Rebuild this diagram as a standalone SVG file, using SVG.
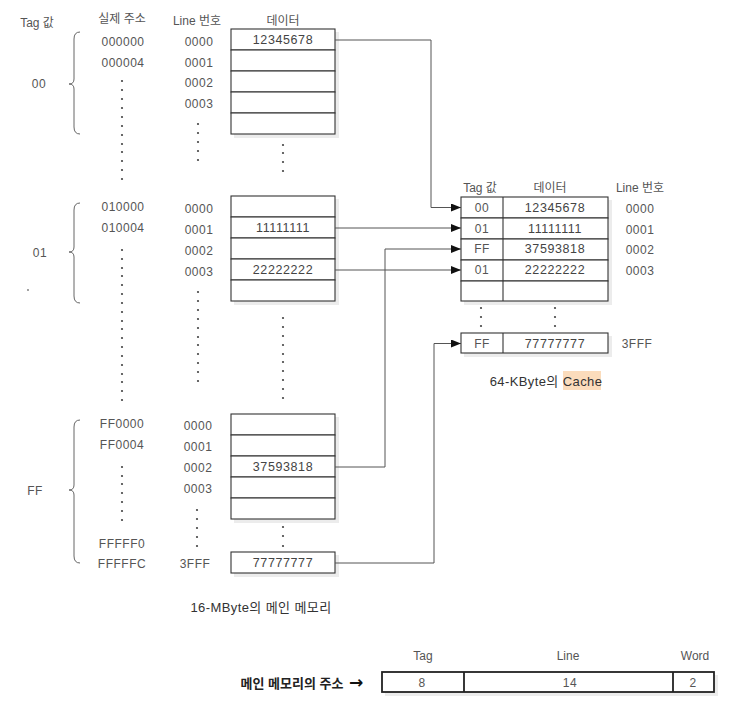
<svg xmlns="http://www.w3.org/2000/svg" width="752" height="712" viewBox="0 0 752 712">
<style>
text{font-family:"Liberation Sans","Noto Sans CJK KR",sans-serif;font-size:12px;fill:#555;text-anchor:middle;dominant-baseline:central}
.d{font-size:12.5px;fill:#444;letter-spacing:0.6px}
.n{letter-spacing:0.5px}
.cell{fill:#fff;stroke:#333;stroke-width:1.1}
.sh{fill:#ececec}
.br{fill:none;stroke:#666;stroke-width:1}
.con{fill:none;stroke:#555;stroke-width:1}
.dot{fill:#444}
.lbl{font-size:13px;fill:#333;letter-spacing:0.4px}
.addr{fill:#fff;stroke:#222;stroke-width:1.8}
</style>
<defs>
<marker id="ah" markerWidth="10" markerHeight="8" refX="10" refY="4" orient="auto" markerUnits="userSpaceOnUse">
<path d="M0,0 L10,4 L0,8 Z" fill="#111"/>
</marker>
<circle id="p" r="1.1" class="dot"/>
</defs>
<rect width="752" height="712" fill="#fff"/>

<g id="headers">
<text x="37" y="23">Tag 값</text>
<text x="122" y="19">실제 주소</text>
<text x="197" y="21">Line 번호</text>
<text x="283" y="21">데이터</text>
</g>

<g id="tag-00">
<text x="39" y="84" class="n">00</text>
<path class="br" d="M80,32 Q74,32 74,39 L74,79 Q74,84 69,84 Q74,84 74,89 L74,127 Q74,134 80,134"/>
<text x="123" y="42" class="n">000000</text>
<text x="123" y="63" class="n">000004</text>
<text x="199" y="42" class="n">0000</text>
<text x="199" y="63" class="n">0001</text>
<text x="199" y="83" class="n">0002</text>
<text x="199" y="104" class="n">0003</text>
</g>

<g id="main-block-1">
<rect class="sh" x="234" y="32" width="105" height="106"/>
<rect class="cell" x="231" y="29" width="104" height="21"/>
<rect class="cell" x="231" y="50" width="104" height="21"/>
<rect class="cell" x="231" y="71" width="104" height="21"/>
<rect class="cell" x="231" y="92" width="104" height="21"/>
<rect class="cell" x="231" y="113" width="104" height="21"/>
<text x="283" y="40" class="d">12345678</text>
</g>

<g id="tag-01">
<text x="40" y="253" class="n">01</text>
<path class="br" d="M80,203 Q74,203 74,210 L74,247 Q74,252 69,252 Q74,252 74,257 L74,296 Q74,303 80,303"/>
<text x="123" y="207" class="n">010000</text>
<text x="123" y="228" class="n">010004</text>
<text x="199" y="209" class="n">0000</text>
<text x="199" y="230" class="n">0001</text>
<text x="199" y="251" class="n">0002</text>
<text x="199" y="272" class="n">0003</text>
</g>

<g id="main-block-2">
<rect class="sh" x="234" y="199" width="105" height="106"/>
<rect class="cell" x="231" y="196" width="104" height="21"/>
<rect class="cell" x="231" y="217" width="104" height="21"/>
<rect class="cell" x="231" y="238" width="104" height="21"/>
<rect class="cell" x="231" y="259" width="104" height="21"/>
<rect class="cell" x="231" y="280" width="104" height="21"/>
<text x="283" y="228" class="d">11111111</text>
<text x="283" y="270" class="d">22222222</text>
</g>

<g id="tag-ff">
<text x="35" y="491" class="n">FF</text>
<path class="br" d="M80,420 Q74,420 74,427 L74,485 Q74,490 69,490 Q74,490 74,495 L74,556 Q74,563 80,563"/>
<text x="122" y="424" class="n">FF0000</text>
<text x="122" y="445" class="n">FF0004</text>
<text x="122" y="544" class="n">FFFFF0</text>
<text x="122" y="564" class="n">FFFFFC</text>
<text x="198" y="426" class="n">0000</text>
<text x="198" y="447" class="n">0001</text>
<text x="198" y="468" class="n">0002</text>
<text x="198" y="489" class="n">0003</text>
<text x="195" y="564" class="n">3FFF</text>
</g>

<g id="main-block-3">
<rect class="sh" x="234" y="417" width="105" height="106"/>
<rect class="cell" x="231" y="414" width="104" height="21"/>
<rect class="cell" x="231" y="435" width="104" height="21"/>
<rect class="cell" x="231" y="456" width="104" height="21"/>
<rect class="cell" x="231" y="477" width="104" height="21"/>
<rect class="cell" x="231" y="498" width="104" height="21"/>
<text x="283" y="467" class="d">37593818</text>
</g>

<g id="main-block-last">
<rect class="sh" x="234" y="555" width="105" height="22"/>
<rect class="cell" x="231" y="552" width="104" height="21"/>
<text x="283" y="563" class="d">77777777</text>
</g>

<g id="dots">
<use href="#p" x="122" y="81"/><use href="#p" x="122" y="90"/><use href="#p" x="122" y="99"/><use href="#p" x="122" y="108"/><use href="#p" x="122" y="117"/><use href="#p" x="122" y="126"/><use href="#p" x="122" y="135"/><use href="#p" x="122" y="144"/><use href="#p" x="122" y="152"/><use href="#p" x="122" y="161"/><use href="#p" x="122" y="170"/><use href="#p" x="122" y="179"/>
<use href="#p" x="198" y="124"/><use href="#p" x="198" y="133"/><use href="#p" x="198" y="142"/><use href="#p" x="198" y="151"/><use href="#p" x="198" y="160"/>
<use href="#p" x="283" y="145"/><use href="#p" x="283" y="153"/><use href="#p" x="283" y="162"/><use href="#p" x="283" y="171"/>

<use href="#p" x="122" y="250"/><use href="#p" x="122" y="259"/><use href="#p" x="122" y="268"/><use href="#p" x="122" y="276"/><use href="#p" x="122" y="285"/><use href="#p" x="122" y="294"/><use href="#p" x="122" y="303"/><use href="#p" x="122" y="312"/><use href="#p" x="122" y="321"/><use href="#p" x="122" y="329"/><use href="#p" x="122" y="338"/><use href="#p" x="122" y="347"/><use href="#p" x="122" y="356"/><use href="#p" x="122" y="365"/><use href="#p" x="122" y="374"/><use href="#p" x="122" y="382"/><use href="#p" x="122" y="391"/><use href="#p" x="122" y="400"/>
<use href="#p" x="198" y="292"/><use href="#p" x="198" y="301"/><use href="#p" x="198" y="310"/><use href="#p" x="198" y="319"/><use href="#p" x="198" y="328"/><use href="#p" x="198" y="337"/><use href="#p" x="198" y="345"/><use href="#p" x="198" y="354"/><use href="#p" x="198" y="363"/><use href="#p" x="198" y="372"/><use href="#p" x="198" y="381"/>
<use href="#p" x="283" y="318"/><use href="#p" x="283" y="327"/><use href="#p" x="283" y="336"/><use href="#p" x="283" y="345"/><use href="#p" x="283" y="354"/><use href="#p" x="283" y="362"/><use href="#p" x="283" y="371"/><use href="#p" x="283" y="380"/><use href="#p" x="283" y="389"/><use href="#p" x="283" y="398"/>

<use href="#p" x="122" y="467"/><use href="#p" x="122" y="476"/><use href="#p" x="122" y="484"/><use href="#p" x="122" y="493"/><use href="#p" x="122" y="502"/><use href="#p" x="122" y="511"/><use href="#p" x="122" y="520"/>
<use href="#p" x="197" y="510"/><use href="#p" x="197" y="519"/><use href="#p" x="197" y="528"/><use href="#p" x="197" y="537"/><use href="#p" x="197" y="546"/>
<use href="#p" x="283" y="527"/><use href="#p" x="283" y="536"/><use href="#p" x="283" y="546"/>

<use href="#p" x="481" y="308"/><use href="#p" x="481" y="317"/><use href="#p" x="481" y="326"/>
<use href="#p" x="555" y="308"/><use href="#p" x="555" y="317"/><use href="#p" x="555" y="326"/>
<circle cx="28" cy="290" r="0.9" fill="#777"/>
</g>

<g id="cache">
<text x="480" y="188">Tag 값</text>
<text x="550" y="188">데이터</text>
<text x="640" y="188">Line 번호</text>
<rect class="sh" x="464" y="200" width="148" height="105"/>
<rect class="cell" x="461" y="197" width="147" height="21"/>
<rect class="cell" x="461" y="218" width="147" height="21"/>
<rect class="cell" x="461" y="239" width="147" height="21"/>
<rect class="cell" x="461" y="260" width="147" height="21"/>
<rect class="cell" x="461" y="281" width="147" height="20"/>
<line class="cell" x1="503" y1="197" x2="503" y2="301"/>
<text x="482" y="208" class="n">00</text>
<text x="482" y="229" class="n">01</text>
<text x="482" y="249" class="n">FF</text>
<text x="482" y="270" class="n">01</text>
<text x="555" y="208" class="d">12345678</text>
<text x="555" y="229" class="d">11111111</text>
<text x="555" y="249" class="d">37593818</text>
<text x="555" y="270" class="d">22222222</text>
<text x="640" y="209" class="n">0000</text>
<text x="640" y="230" class="n">0001</text>
<text x="640" y="250" class="n">0002</text>
<text x="640" y="271" class="n">0003</text>
<rect class="sh" x="464" y="336" width="148" height="21"/>
<rect class="cell" x="461" y="333" width="147" height="20"/>
<line class="cell" x1="503" y1="333" x2="503" y2="353"/>
<text x="482" y="344" class="n">FF</text>
<text x="555" y="344" class="d">77777777</text>
<text x="637" y="344" class="n">3FFF</text>
<rect x="563" y="371" width="38" height="19" fill="#fbdcbc"/>
<text x="546" y="381" class="lbl">64-KByte의 Cache</text>
</g>

<g id="connectors">
<path class="con" d="M335,40 H431 V207.5 H461" marker-end="url(#ah)"/>
<path class="con" d="M335,228 H461" marker-end="url(#ah)"/>
<path class="con" d="M335,467 H385 V249 H461" marker-end="url(#ah)"/>
<path class="con" d="M335,270 H461" marker-end="url(#ah)"/>
<path class="con" d="M335,563 H434 V343.5 H461" marker-end="url(#ah)"/>
</g>

<text x="261" y="607" class="lbl">16-MByte의 메인 메모리</text>

<g id="address-format">
<text x="423" y="656">Tag</text>
<text x="568" y="656">Line</text>
<text x="695" y="656">Word</text>
<text x="292" y="683" style="font-size:13px;fill:#222;font-weight:bold">메인 메모리의 주소</text>
<text x="356" y="682" style="font-family:'DejaVu Sans',sans-serif;font-size:17px;fill:#111;font-weight:bold">→</text>
<rect class="sh" x="385" y="675" width="333" height="21"/>
<rect class="addr" x="382" y="672" width="332" height="20"/>
<line class="addr" x1="464" y1="672" x2="464" y2="692"/>
<line class="addr" x1="673" y1="672" x2="673" y2="692"/>
<text x="422" y="683" class="n">8</text>
<text x="570" y="683" class="n">14</text>
<text x="693" y="683" class="n">2</text>
</g>
</svg>
